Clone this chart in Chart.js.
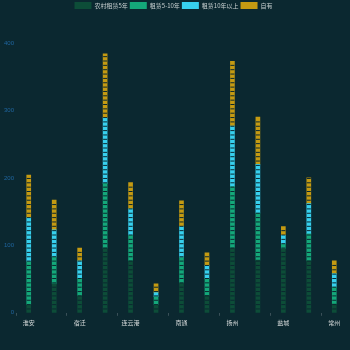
<!DOCTYPE html>
<html>
<head>
<meta charset="utf-8">
<script src="https://cdn.jsdelivr.net/npm/chart.js@4"></script>
<style>
  html, body { margin: 0; padding: 0; background: #0b2830; }
</style>
</head>
<body>
<canvas id="c" width="350" height="350"></canvas>
<script>
/* 城市 */
const cities = ['淮安', '徐州', '宿迁', '南京', '连云港', '镇江', '南通', '泰州', '扬州', '苏州', '盐城', '无锡', '常州'];

/* 各类数量 */
const lease5 = [12, 43, 25, 96, 77, 12, 44, 26, 96, 78, 95, 77, 13];
const lease5to10 = [64, 40, 26, 96, 38, 12, 38, 25, 91, 70, 7, 40, 25];
const lease10 = [65, 40, 26, 97, 39, 6, 46, 19, 90, 72, 13, 45, 20];
const owned = [63, 44, 19, 95, 39, 13, 38, 19, 96, 70, 13, 38, 19];

const seriesNames = ['农村租赁5年', '租赁5-10年', '租赁10年以上', '自有'];
const colors = ['#0d4d38', '#14a87a', '#37d0ee', '#c49a12'];

const bg = '#0b2830';

/* 切成小方块 */
const segmentPlugin = {
  id: 'segments',
  afterDatasetsDraw(chart) {
    const ctx = chart.ctx;
    const base = chart.scales.y.getPixelForValue(0);
    const step = 4.35;
    ctx.save();
    ctx.fillStyle = bg;
    chart.data.datasets.forEach((ds, i) => {
      const meta = chart.getDatasetMeta(i);
      if (meta.hidden) return;
      meta.data.forEach(bar => {
        const top = Math.min(bar.y, bar.base);
        const bottom = Math.max(bar.y, bar.base);
        const left = bar.x - bar.width / 2;
        for (let y = base - step; y > top; y -= step) {
          if (y < bottom) ctx.fillRect(left, y, bar.width, 1);
        }
      });
    });
    ctx.restore();
  }
};

/* 图例下面多留点空 */
const legendGap = {
  id: 'legendGap',
  beforeInit(chart) {
    const fit = chart.legend.fit;
    chart.legend.fit = function () {
      fit.bind(chart.legend)();
      this.height += 24;
    };
  }
};

new Chart(document.getElementById('c'), {
  type: 'bar',
  data: {
    labels: cities,
    datasets: [lease5, lease5to10, lease10, owned].map((d, i) => ({
      label: seriesNames[i],
      data: d,
      backgroundColor: colors[i],
      barThickness: 4
    }))
  },
  options: {
    responsive: false,
    animation: false,
    layout: { padding: { left: 0, right: 3, top: 0, bottom: 21 } },
    plugins: {
      tooltip: { enabled: false },
      legend: {
        position: 'top',
        labels: {
          color: '#c8d0d0',
          font: { size: 6, family: 'Noto Sans CJK SC' },
          boxWidth: 17,
          boxHeight: 7,
          padding: 2
        }
      }
    },
    scales: {
      x: {
        stacked: true,
        border: { display: false },
        grid: {
          drawOnChartArea: false,
          tickLength: 3,
          tickColor: ctx => ctx.index % 2 === 0 ? '#3a5058' : 'transparent'
        },
        ticks: {
          autoSkip: false,
          maxRotation: 0,
          color: '#d8dcdc',
          font: { size: 6, family: 'Noto Sans CJK SC' },
          callback: (v, i) => i % 2 === 0 ? cities[i] : ''
        }
      },
      y: {
        stacked: true,
        min: 0,
        max: 400,
        border: { display: false },
        grid: { display: false, drawTicks: false },
        afterFit: scale => { scale.width = 16; },
        ticks: {
          stepSize: 100,
          padding: 2,
          color: '#1f66a0',
          font: { size: 6 }
        }
      }
    }
  },
  plugins: [segmentPlugin, legendGap]
});
</script>
</body>
</html>
